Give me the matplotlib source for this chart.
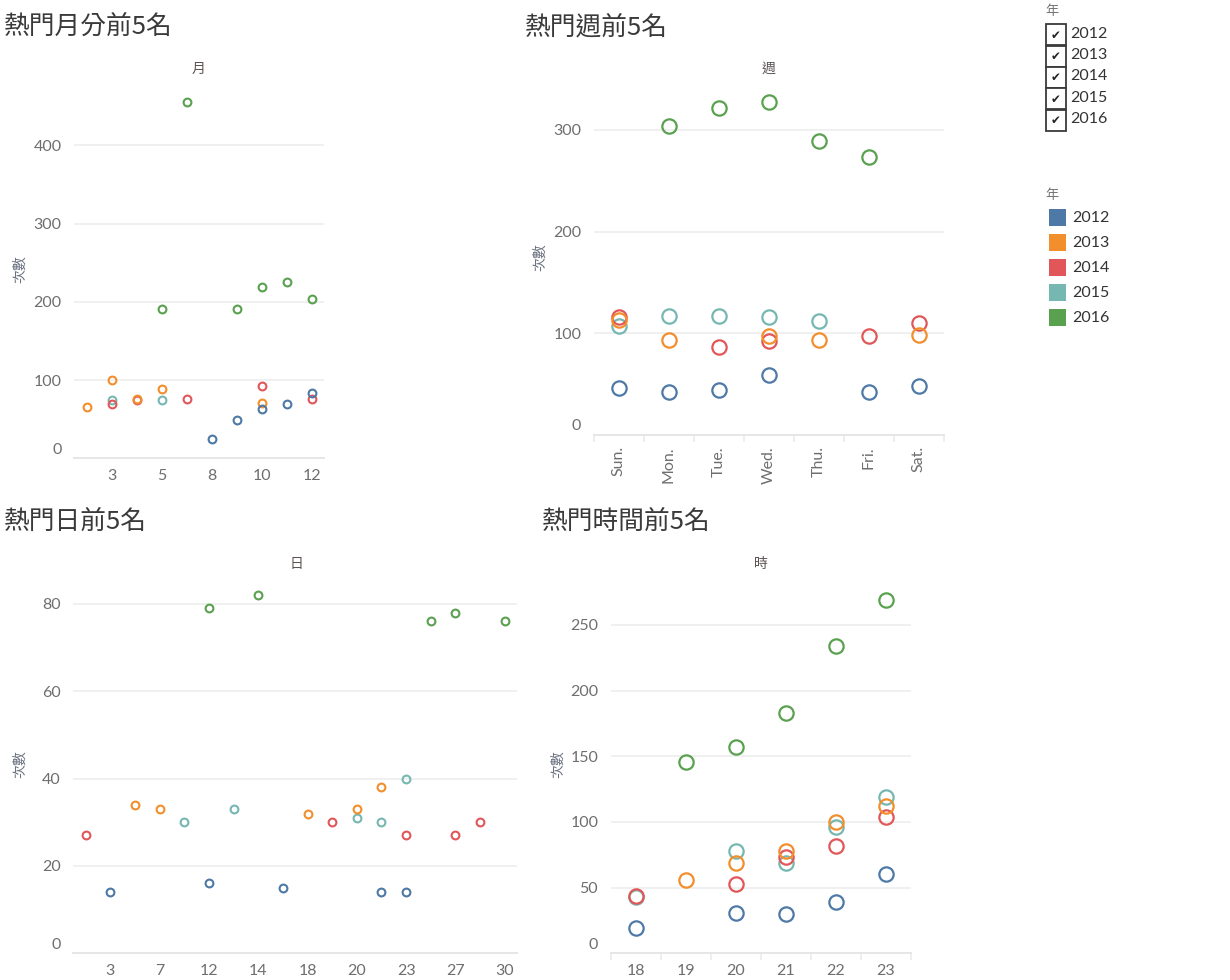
import matplotlib
matplotlib.use("Agg")
import matplotlib.pyplot as plt
from matplotlib.patches import Rectangle
from matplotlib.transforms import ScaledTranslation

plt.rcParams['font.family'] = ['Lato', 'Noto Sans CJK TC', 'DejaVu Sans']

W, H = 1230, 980
DPI = 100

# ---------------- data ----------------
years = ['2012', '2013', '2014', '2015', '2016']
colors = ['#4e79a7', '#f28e2b', '#e15759', '#76b7b2', '#59a14f']

# 熱門月分前5名
month_cats = ['2', '3', '4', '5', '7', '8', '9', '10', '11', '12']
month_2012 = [None, None, None, None, None, 25, 49, 63, 70, 84]
month_2013 = [66, 100, 76, 89, None, None, None, 71, None, None]
month_2014 = [None, 70, 75, None, 76, None, None, 92, None, 76]
month_2015 = [None, 75, None, 75, None, None, None, None, None, None]
month_2016 = [None, None, None, 191, 456, None, 191, 219, 226, 204]

# 熱門週前5名
week_cats = ['Sun.', 'Mon.', 'Tue.', 'Wed.', 'Thu.', 'Fri.', 'Sat.']
week_2012 = [46, 42, 44, 59, None, 42, 48]
week_2013 = [113, 93, None, 97, 93, None, 98]
week_2014 = [116, None, 87, 92, None, 97, 110]
week_2015 = [107, 117, 117, 116, 112, None, None]
week_2016 = [None, 304, 321, 327, 289, 273, None]

# 熱門日前5名
day_cats = ['1', '3', '5', '7', '10', '12', '13', '14', '16', '18',
            '19', '20', '22', '23', '25', '27', '28', '30']
day_2012 = [None, 14, None, None, None, 16, None, None, 15, None,
            None, None, 14, 14, None, None, None, None]
day_2013 = [None, None, 34, 33, None, None, None, None, None, 32,
            None, 33, 38, None, None, None, None, None]
day_2014 = [27, None, None, None, None, None, None, None, None, None,
            30, None, None, 27, None, 27, 30, None]
day_2015 = [None, None, None, None, 30, None, 33, None, None, None,
            None, 31, 30, 40, None, None, None, None]
day_2016 = [None, None, None, None, None, 79, None, 82, None, None,
            None, None, None, None, 76, 78, None, 76]

# 熱門時間前5名
hour_cats = ['18', '19', '20', '21', '22', '23']
hour_2012 = [19, None, 31, 30, 39, 60]
hour_2013 = [None, 56, 69, 78, 100, 112]
hour_2014 = [44, None, 53, 73, 82, 104]
hour_2015 = [43, None, 78, 69, 96, 119]
hour_2016 = [None, 146, 157, 183, 234, 269]

# ---------------- figure ----------------
fig = plt.figure(figsize=(W / DPI, H / DPI), dpi=DPI)
fig.patch.set_facecolor('white')

TICK_COLOR = '#6e6e6e'
GRID_COLOR = '#efefef'
TITLE_COLOR = '#3a3a3a'
CJK = ['Noto Sans CJK TC', 'DejaVu Sans']


def px_axes(x0, x1, ytop, ybot):
    return fig.add_axes([x0 / W, 1 - ybot / H, (x1 - x0) / W, (ybot - ytop) / H])


def ftext(x, y, s, **kw):
    return fig.text(x / W, 1 - y / H, s, **kw)


def make_panel(rect, cats, series, ymax, yticks, msize, mew, show_every_other,
               rotate=False, boundary_ticks=False):
    ax = px_axes(*rect)
    n = len(cats)
    xs = list(range(n))
    for k, (vals, col) in enumerate(zip(series, colors)):
        px = [x for x, v in zip(xs, vals) if v is not None]
        py = [v for v in vals if v is not None]
        ax.plot(px, py, linestyle='none', marker='o', markersize=msize,
                markerfacecolor='none', markeredgecolor=col,
                markeredgewidth=mew, zorder=10 - k, clip_on=False)
    ax.set_xlim(-0.5, n - 0.5)
    ax.set_ylim(0, ymax)
    for s in ['top', 'right', 'left']:
        ax.spines[s].set_visible(False)
    ax.spines['bottom'].set_color('#e4e4e4')
    ax.spines['bottom'].set_linewidth(1.3)
    ax.set_yticks(yticks)
    ax.set_yticklabels([str(t) for t in yticks])
    for t in yticks:
        if t != 0:
            ax.axhline(t, color=GRID_COLOR, linewidth=1.3, zorder=0)
    ax.tick_params(axis='y', length=0, pad=9, labelsize=11.5, labelcolor=TICK_COLOR)
    # shift the 0 label upward as in the reference
    lab0 = ax.get_yticklabels()[0]
    lab0.set_transform(lab0.get_transform() + ScaledTranslation(0, 10 / DPI, fig.dpi_scale_trans))
    ax.set_xticks(xs)
    if show_every_other:
        labels = [c if i % 2 == 1 else '' for i, c in enumerate(cats)]
    else:
        labels = cats
    ax.set_xticklabels(labels, rotation=90 if rotate else 0)
    ax.tick_params(axis='x', length=0, pad=8, labelsize=11.5, labelcolor=TICK_COLOR)
    if boundary_ticks:
        ax.set_xticks([i - 0.5 for i in range(n + 1)], minor=True)
        ax.tick_params(axis='x', which='minor', length=5, color='#ebebeb', width=1.2)
    ax.set_facecolor('none')
    return ax


# month panel
ax1 = make_panel((74, 324, 80, 458.3), month_cats,
                 [month_2012, month_2013, month_2014, month_2015, month_2016],
                 483.7, [0, 100, 200, 300, 400], 5.6, 1.5, True)
# week panel
ax2 = make_panel((593.7, 943.7, 80, 435), week_cats,
                 [week_2012, week_2013, week_2014, week_2015, week_2016],
                 349, [0, 100, 200, 300], 10.3, 1.6, False, rotate=True,
                 boundary_ticks=True)
# day panel
ax3 = make_panel((73.4, 517, 575, 953.3), day_cats,
                 [day_2012, day_2013, day_2014, day_2015, day_2016],
                 86.6, [0, 20, 40, 60, 80], 5.6, 1.5, True)
# hour panel
ax4 = make_panel((610.7, 910.7, 575, 953.3), hour_cats,
                 [hour_2012, hour_2013, hour_2014, hour_2015, hour_2016],
                 288, [0, 50, 100, 150, 200, 250], 10.3, 1.6, False,
                 boundary_ticks=True)

# titles
TKW = dict(family=CJK, fontsize=18.5, color=TITLE_COLOR, va='center', ha='left',
           fontweight='light')
ftext(4, 27, '熱門月分前5名', **TKW)
ftext(525, 27, '熱門週前5名', **TKW)
ftext(4, 522, '熱門日前5名', **TKW)
ftext(542, 522, '熱門時間前5名', **TKW)

# column headers
HEAD_COLOR = '#5c5252'
ftext(199, 69, '月', family=CJK, fontsize=10, color=HEAD_COLOR, ha='center', va='center')
ftext(768.7, 69, '週', family=CJK, fontsize=10, color=HEAD_COLOR, ha='center', va='center')
ftext(297, 564, '日', family=CJK, fontsize=10, color=HEAD_COLOR, ha='center', va='center')
ftext(760.7, 564, '時', family=CJK, fontsize=10, color=HEAD_COLOR, ha='center', va='center')

# y axis labels
YL_COLOR = '#6a7180'
ftext(20, 269, '次數', family=CJK, fontsize=10, color=YL_COLOR, ha='center', va='center', rotation=90)
ftext(540, 257, '次數', family=CJK, fontsize=10, color=YL_COLOR, ha='center', va='center', rotation=90)
ftext(20, 764, '次數', family=CJK, fontsize=10, color=YL_COLOR, ha='center', va='center', rotation=90)
ftext(558, 764, '次數', family=CJK, fontsize=10, color=YL_COLOR, ha='center', va='center', rotation=90)

# ---------------- legends ----------------
ftext(1045, 12, '年', family=CJK, fontsize=9.5, color='#707070', ha='left', va='center')
box_tops = [24.3, 45.7, 67.0, 88.4, 109.8]
for yr, top in zip(years, box_tops):
    fig.patches.append(Rectangle((1045.5 / W, 1 - (top + 21) / H), 20.5 / W, 21 / H,
                                 transform=fig.transFigure, facecolor='white',
                                 edgecolor='#3a3a3a', linewidth=1.3))
    ftext(1056, top + 11, '\u2714', family=['DejaVu Sans'], fontsize=8.5,
          color='#222222', ha='center', va='center')
    ftext(1070, top + 9.5, yr, fontsize=11.5, color='#333333', ha='left', va='center')

ftext(1045, 196, '年', family=CJK, fontsize=9.5, color='#707070', ha='left', va='center')
sw_centers = [217.7, 242.7, 267.7, 292.7, 317.7]
for yr, col, cy in zip(years, colors, sw_centers):
    fig.patches.append(Rectangle((1049 / W, 1 - (cy + 8.5) / H), 17 / W, 17 / H,
                                 transform=fig.transFigure, facecolor=col,
                                 edgecolor='none'))
    ftext(1072.5, cy, yr, fontsize=11.5, color='#333333', ha='left', va='center')

fig.savefig('out.png', dpi=DPI, facecolor='white')
